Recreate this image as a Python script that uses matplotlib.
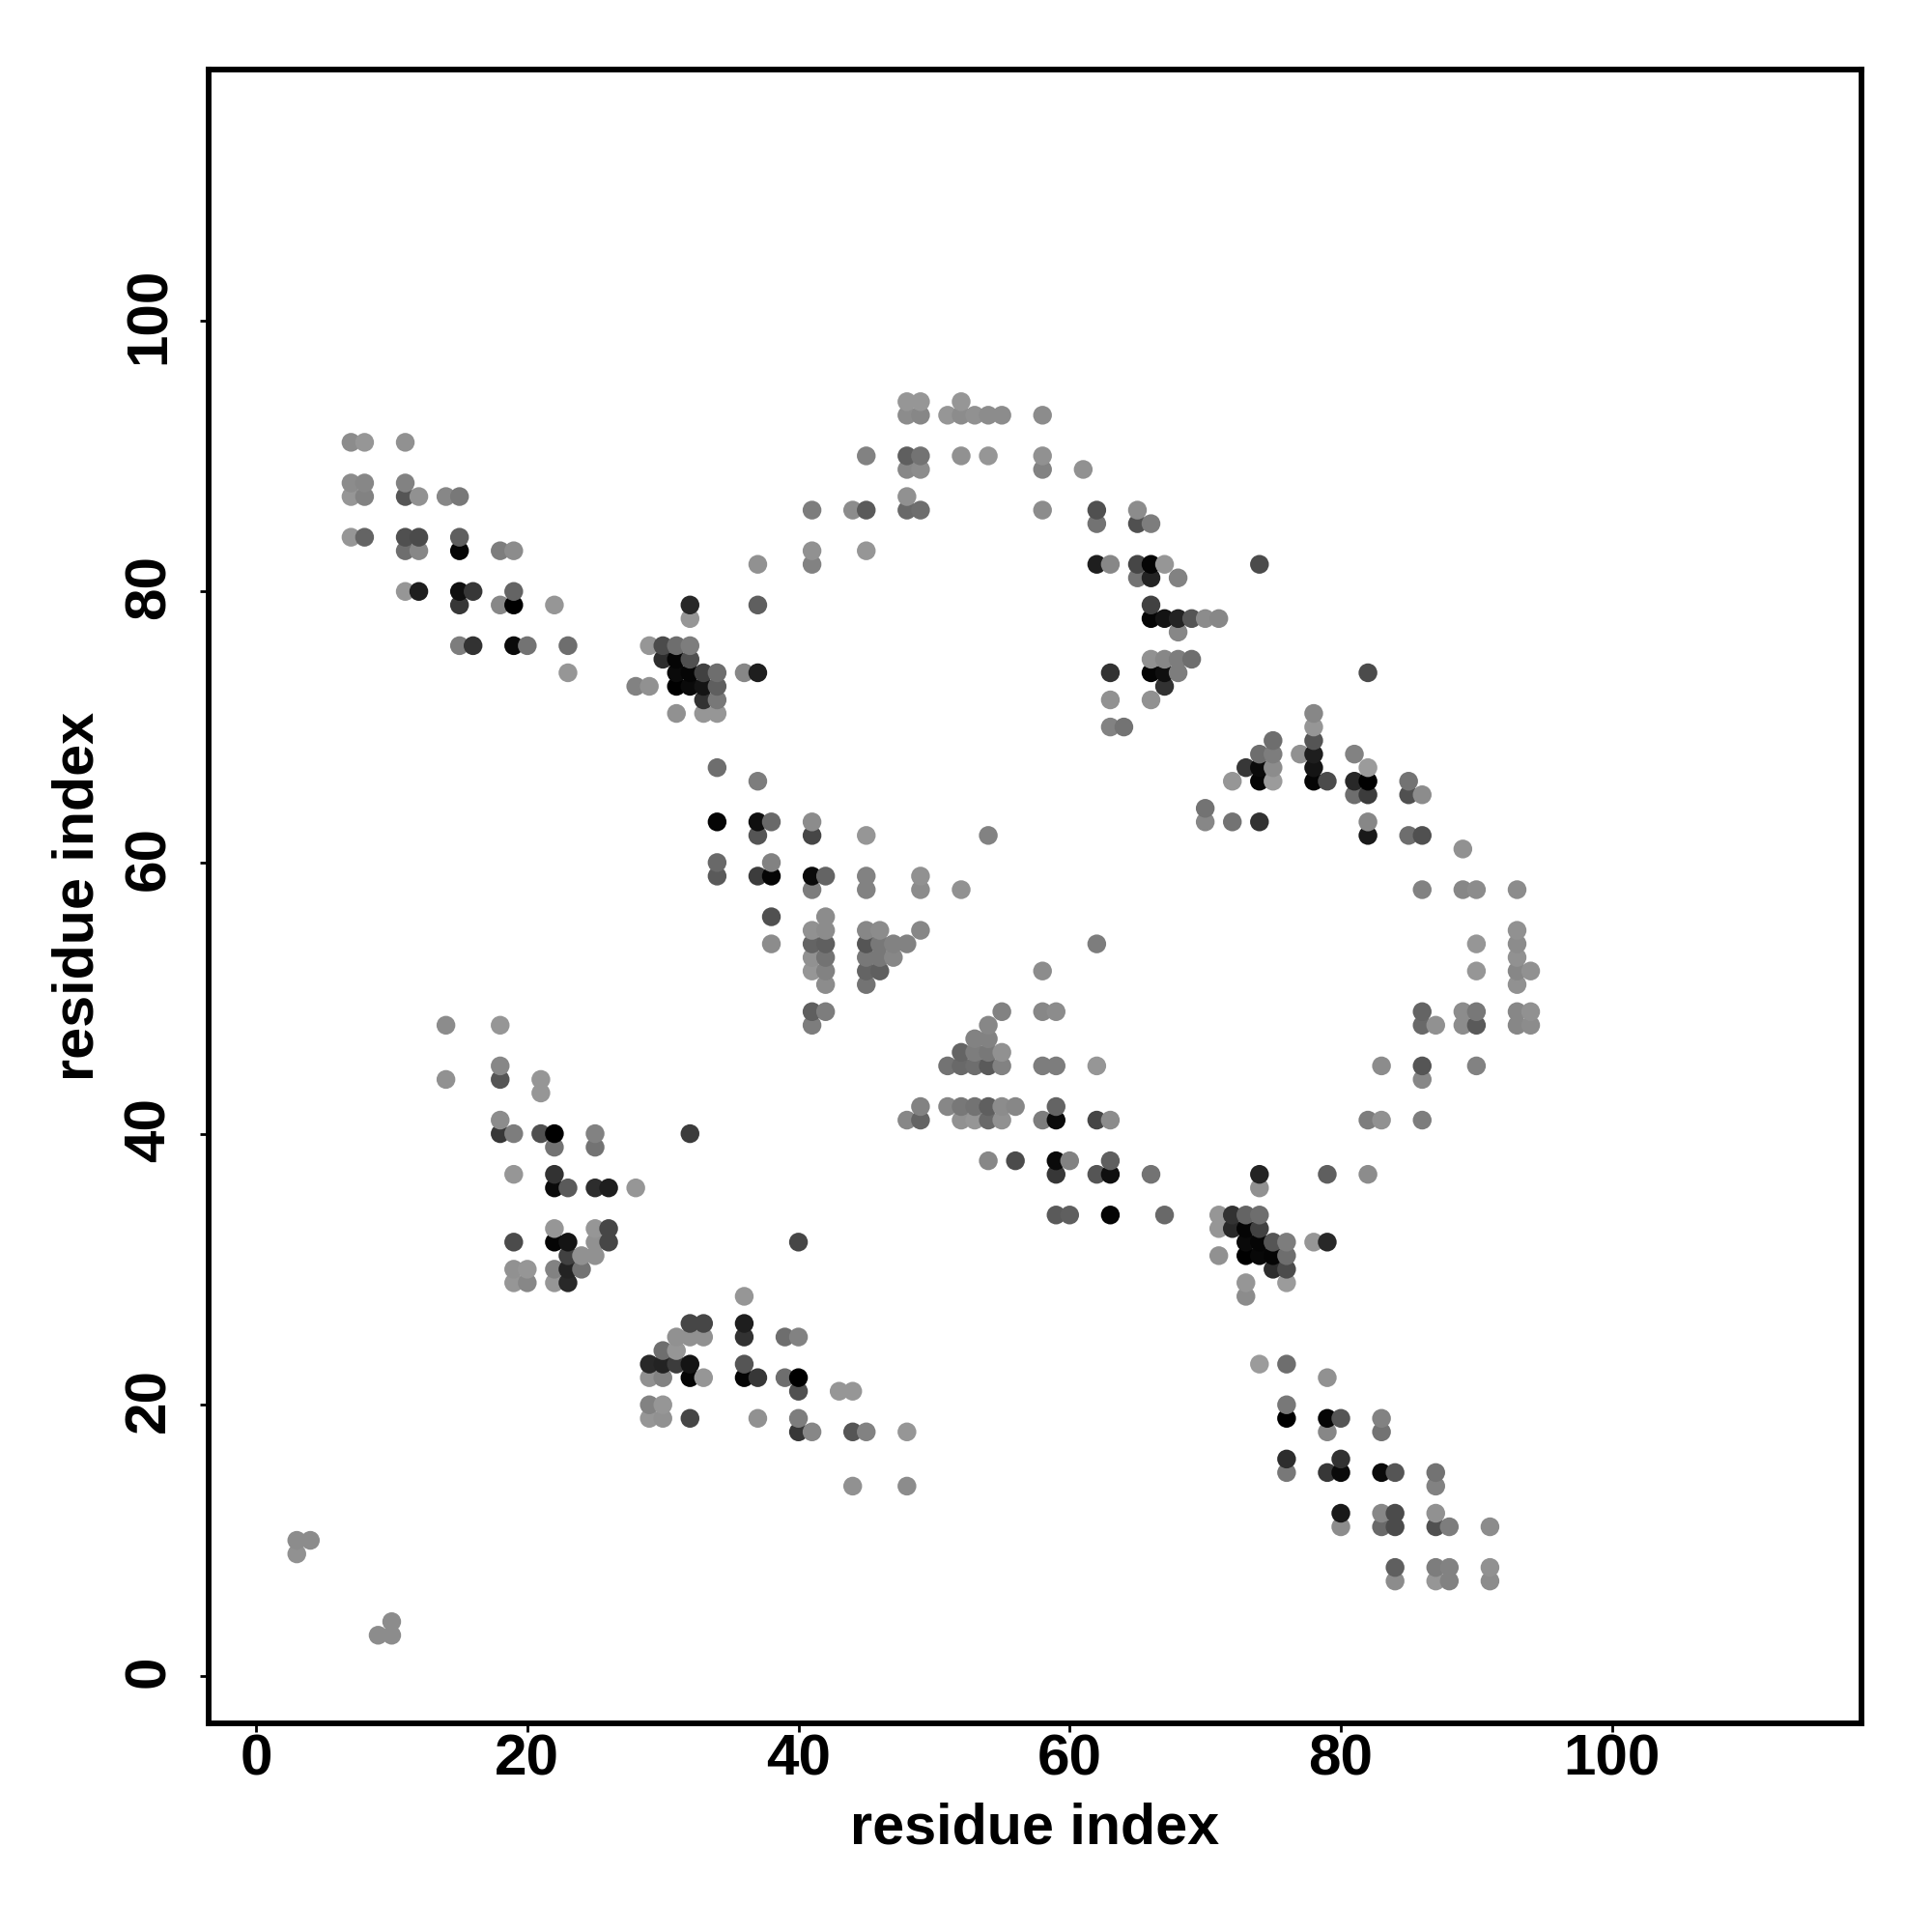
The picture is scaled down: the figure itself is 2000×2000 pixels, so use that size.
import matplotlib
matplotlib.use('Agg')
import matplotlib.pyplot as plt
from matplotlib.transforms import ScaledTranslation

plt.rcParams['font.family'] = ['Liberation Sans', 'DejaVu Sans']

# contact map, one entry per row: y residue, x residues, grey level (0 black, 255 white)
row_y = [3, 4, 7, 8, 9, 10, 11, 12, 14, 15, 16, 18, 19, 20, 21, 22, 23, 24, 25, 26, 28, 29, 30, 31, 32,
         33, 34, 36, 37, 38, 39, 40, 41, 42, 43, 44, 45, 46, 47, 48, 49, 51, 52, 53, 54, 55, 56, 58, 59, 60,
         61, 62, 63, 64, 65, 66, 67, 68, 69, 70, 71, 72, 73, 74, 75, 76, 77, 78, 79, 80, 81, 82, 83, 84, 85,
         86, 87, 88, 89, 90, 91, 93, 94]

row_x = [
    [9, 10], [10], [84, 87, 88, 91], [84, 87, 88, 91], [3], [3, 4],
    [80, 83, 84, 87, 88, 91], [80, 83, 84, 87], [44, 48, 87], [76, 79, 80, 83, 84, 87], [76, 80],
    [40, 41, 44, 45, 48, 79, 83], [29, 30, 32, 37, 40, 76, 79, 80, 83], [29, 30, 76], [40, 43, 44],
    [29, 30, 32, 33, 36, 37, 39, 40, 79], [29, 30, 31, 32, 36, 74, 76], [30, 31],
    [31, 32, 33, 36, 39, 40], [32, 33, 36], [36, 73], [19, 20, 22, 23, 73, 76],
    [19, 20, 22, 23, 24, 75, 76], [23, 24, 25, 71, 73, 74, 75, 76],
    [19, 22, 23, 25, 26, 40, 73, 74, 75, 76, 78, 79],
    [22, 25, 26, 71, 72, 73, 74], [59, 60, 63, 67, 71, 72, 73, 74], [22, 23, 25, 26, 28, 74],
    [19, 22, 59, 62, 63, 66, 74, 79, 82], [54, 56, 59, 60, 63], [22, 25], [18, 19, 21, 22, 25, 32],
    [18, 48, 49, 52, 53, 54, 55, 58, 59, 62, 63, 82, 83, 86], [49, 51, 52, 53, 54, 55, 56, 59], [21],
    [14, 18, 21, 86], [18, 51, 52, 53, 54, 55, 58, 59, 62, 83, 86, 90], [52, 53, 54, 55], [53, 54],
    [14, 18, 41, 54, 86, 87, 89, 90, 93, 94], [41, 42, 55, 58, 59, 86, 89, 90, 93, 94], [42, 45, 93],
    [41, 42, 45, 46, 58, 90, 93, 94], [41, 42, 45, 46, 47, 93], [38, 41, 42, 45, 46, 47, 48, 62, 90, 93],
    [41, 42, 45, 46, 49, 93], [38, 42], [41, 45, 49, 52, 86, 89, 90, 93], [34, 37, 38, 41, 42, 45, 49],
    [34, 38], [89], [37, 41, 45, 54, 82, 85, 86], [34, 37, 38, 41, 70, 72, 74, 82], [70],
    [81, 82, 85, 86], [37, 72, 74, 75, 78, 79, 81, 82, 85], [34, 73, 74, 75, 78, 82],
    [74, 75, 77, 78, 81], [75, 78], [63, 64, 78], [31, 33, 34, 78], [33, 34, 63, 66],
    [28, 29, 31, 32, 33, 34, 67], [23, 31, 32, 33, 34, 36, 37, 63, 66, 67, 68, 82],
    [30, 31, 32, 66, 67, 68, 69], [15, 16, 19, 20, 23, 29, 30, 31, 32], [68],
    [32, 66, 67, 68, 69, 70, 71], [15, 18, 19, 22, 32, 37, 66], [11, 12, 15, 16, 19], [65, 66, 68],
    [37, 41, 62, 63, 65, 66, 67, 74], [11, 12, 15, 18, 19, 41, 45], [7, 8, 11, 12, 15], [62, 65, 66],
    [41, 44, 45, 48, 49, 58, 62, 65], [7, 8, 11, 12, 14, 15, 48], [7, 8, 11], [48, 49, 58, 61],
    [45, 48, 49, 52, 54, 58], [7, 8, 11], [48, 49, 51, 52, 53, 54, 55, 58], [48, 49, 52],
]

row_grey = [
    [140, 140], [140], [140, 150, 130, 140], [95, 125, 130, 145], [145], [140, 140],
    [140, 105, 75, 80, 125, 140], [25, 135, 75, 145], [145, 140, 130], [120, 55, 10, 10, 85, 115], [45, 50],
    [55, 135, 85, 130, 150, 135, 115], [150, 145, 70, 145, 125, 0, 5, 85, 130], [130, 150, 120], [80, 150, 150],
    [145, 130, 5, 150, 5, 55, 110, 0, 145], [40, 35, 60, 20, 85, 155, 110], [110, 150],
    [145, 145, 145, 50, 110, 130], [70, 70, 30], [150, 140], [150, 135, 150, 40, 150, 155],
    [145, 150, 130, 35, 115, 45, 75], [65, 145, 145, 145, 0, 8, 5, 110],
    [75, 5, 20, 145, 70, 70, 10, 5, 85, 125, 150, 40],
    [150, 150, 70, 150, 40, 5, 65], [90, 95, 5, 105, 150, 50, 100, 110], [10, 90, 45, 30, 150, 145],
    [150, 50, 55, 85, 15, 115, 35, 95, 140], [135, 75, 10, 130, 95], [115, 115], [55, 125, 80, 0, 130, 60],
    [140, 135, 100, 145, 150, 105, 145, 125, 10, 70, 140, 125, 145, 125], [130, 135, 120, 115, 95, 140, 135, 100], [150],
    [145, 85, 150, 135], [135, 115, 105, 110, 90, 130, 125, 125, 150, 140, 85, 130], [100, 125, 120, 145], [130, 130],
    [140, 150, 125, 135, 105, 145, 140, 90, 135, 140], [95, 125, 130, 135, 140, 100, 140, 120, 135, 145], [140, 115, 145],
    [150, 130, 100, 95, 140, 150, 135, 145], [145, 115, 120, 120, 135, 145], [140, 100, 95, 85, 120, 130, 130, 125, 150, 140],
    [145, 140, 135, 140, 135, 145], [80, 140], [125, 130, 140, 145, 130, 135, 140, 140], [90, 60, 5, 10, 100, 130, 145],
    [105, 130], [145], [85, 70, 150, 130, 25, 110, 80], [5, 15, 105, 140, 135, 115, 50, 135], [115],
    [110, 60, 80, 140], [125, 150, 5, 155, 5, 75, 40, 0, 115], [110, 55, 10, 140, 20, 155],
    [110, 125, 145, 30, 130], [110, 85], [130, 115, 150], [145, 150, 150, 135], [50, 120, 145, 145],
    [130, 145, 0, 10, 20, 95, 50], [150, 10, 5, 65, 110, 135, 30, 50, 5, 15, 125, 75],
    [45, 5, 80, 145, 135, 125, 110], [125, 50, 10, 115, 110, 150, 75, 110, 125], [135],
    [150, 5, 20, 35, 85, 140, 135], [55, 135, 0, 150, 40, 95, 65], [150, 30, 15, 55, 100], [115, 35, 130],
    [145, 130, 30, 135, 70, 5, 150, 75], [110, 135, 5, 125, 140, 145, 150], [150, 100, 80, 75, 95], [115, 80, 125],
    [125, 140, 90, 105, 110, 140, 80, 140], [150, 130, 85, 145, 135, 120, 145], [140, 135, 130], [135, 140, 130, 145],
    [130, 95, 115, 145, 150, 145], [140, 150, 145], [140, 135, 150, 140, 145, 140, 140, 140], [150, 150, 150],
]

tick_vals = [0, 20, 40, 60, 80, 100]

res_x = []
res_y = []
colors = []
for y, xs, gs in zip(row_y, row_x, row_grey):
    for x, g in zip(xs, gs):
        res_x.append(x)
        res_y.append(y)
        colors.append((g / 255, g / 255, g / 255))

fig = plt.figure(figsize=(10, 10), dpi=200)
ax = fig.add_axes([216 / 2000, 1 - 1784 / 2000, 1711 / 2000, 1712 / 2000])

ax.scatter(res_x, res_y, s=49, c=colors, linewidths=0, zorder=3)

ax.set_xlim(-3.5, 118.4)
ax.set_ylim(-3.5, 118.5)
ax.set_xticks(tick_vals)
ax.set_yticks(tick_vals)
ax.tick_params(axis='x', length=3.1, width=1, labelsize=21.7, pad=0.5)
ax.tick_params(axis='y', length=3.1, width=1, labelsize=21.7, pad=9)
for lab in ax.get_xticklabels():
    lab.set_fontweight('bold')
# rotated labels sit a little low, nudge them up onto the ticks
nudge = ScaledTranslation(0, 1.6 / 72, fig.dpi_scale_trans)
for lab in ax.get_yticklabels():
    lab.set_fontweight('bold')
    lab.set_rotation(90)
    lab.set_va('center')
    lab.set_transform(lab.get_transform() + nudge)
for s in ax.spines.values():
    s.set_linewidth(2.1)

fig.text(1071 / 2000, 1 - 1893 / 2000, 'residue index', fontsize=21.4, fontweight='bold',
         ha='center', va='center')
fig.text(81 / 2000, 1 - 928 / 2000, 'residue index', fontsize=21.4, fontweight='bold',
         ha='center', va='center', rotation=90)

fig.savefig('out.png', dpi=200)
